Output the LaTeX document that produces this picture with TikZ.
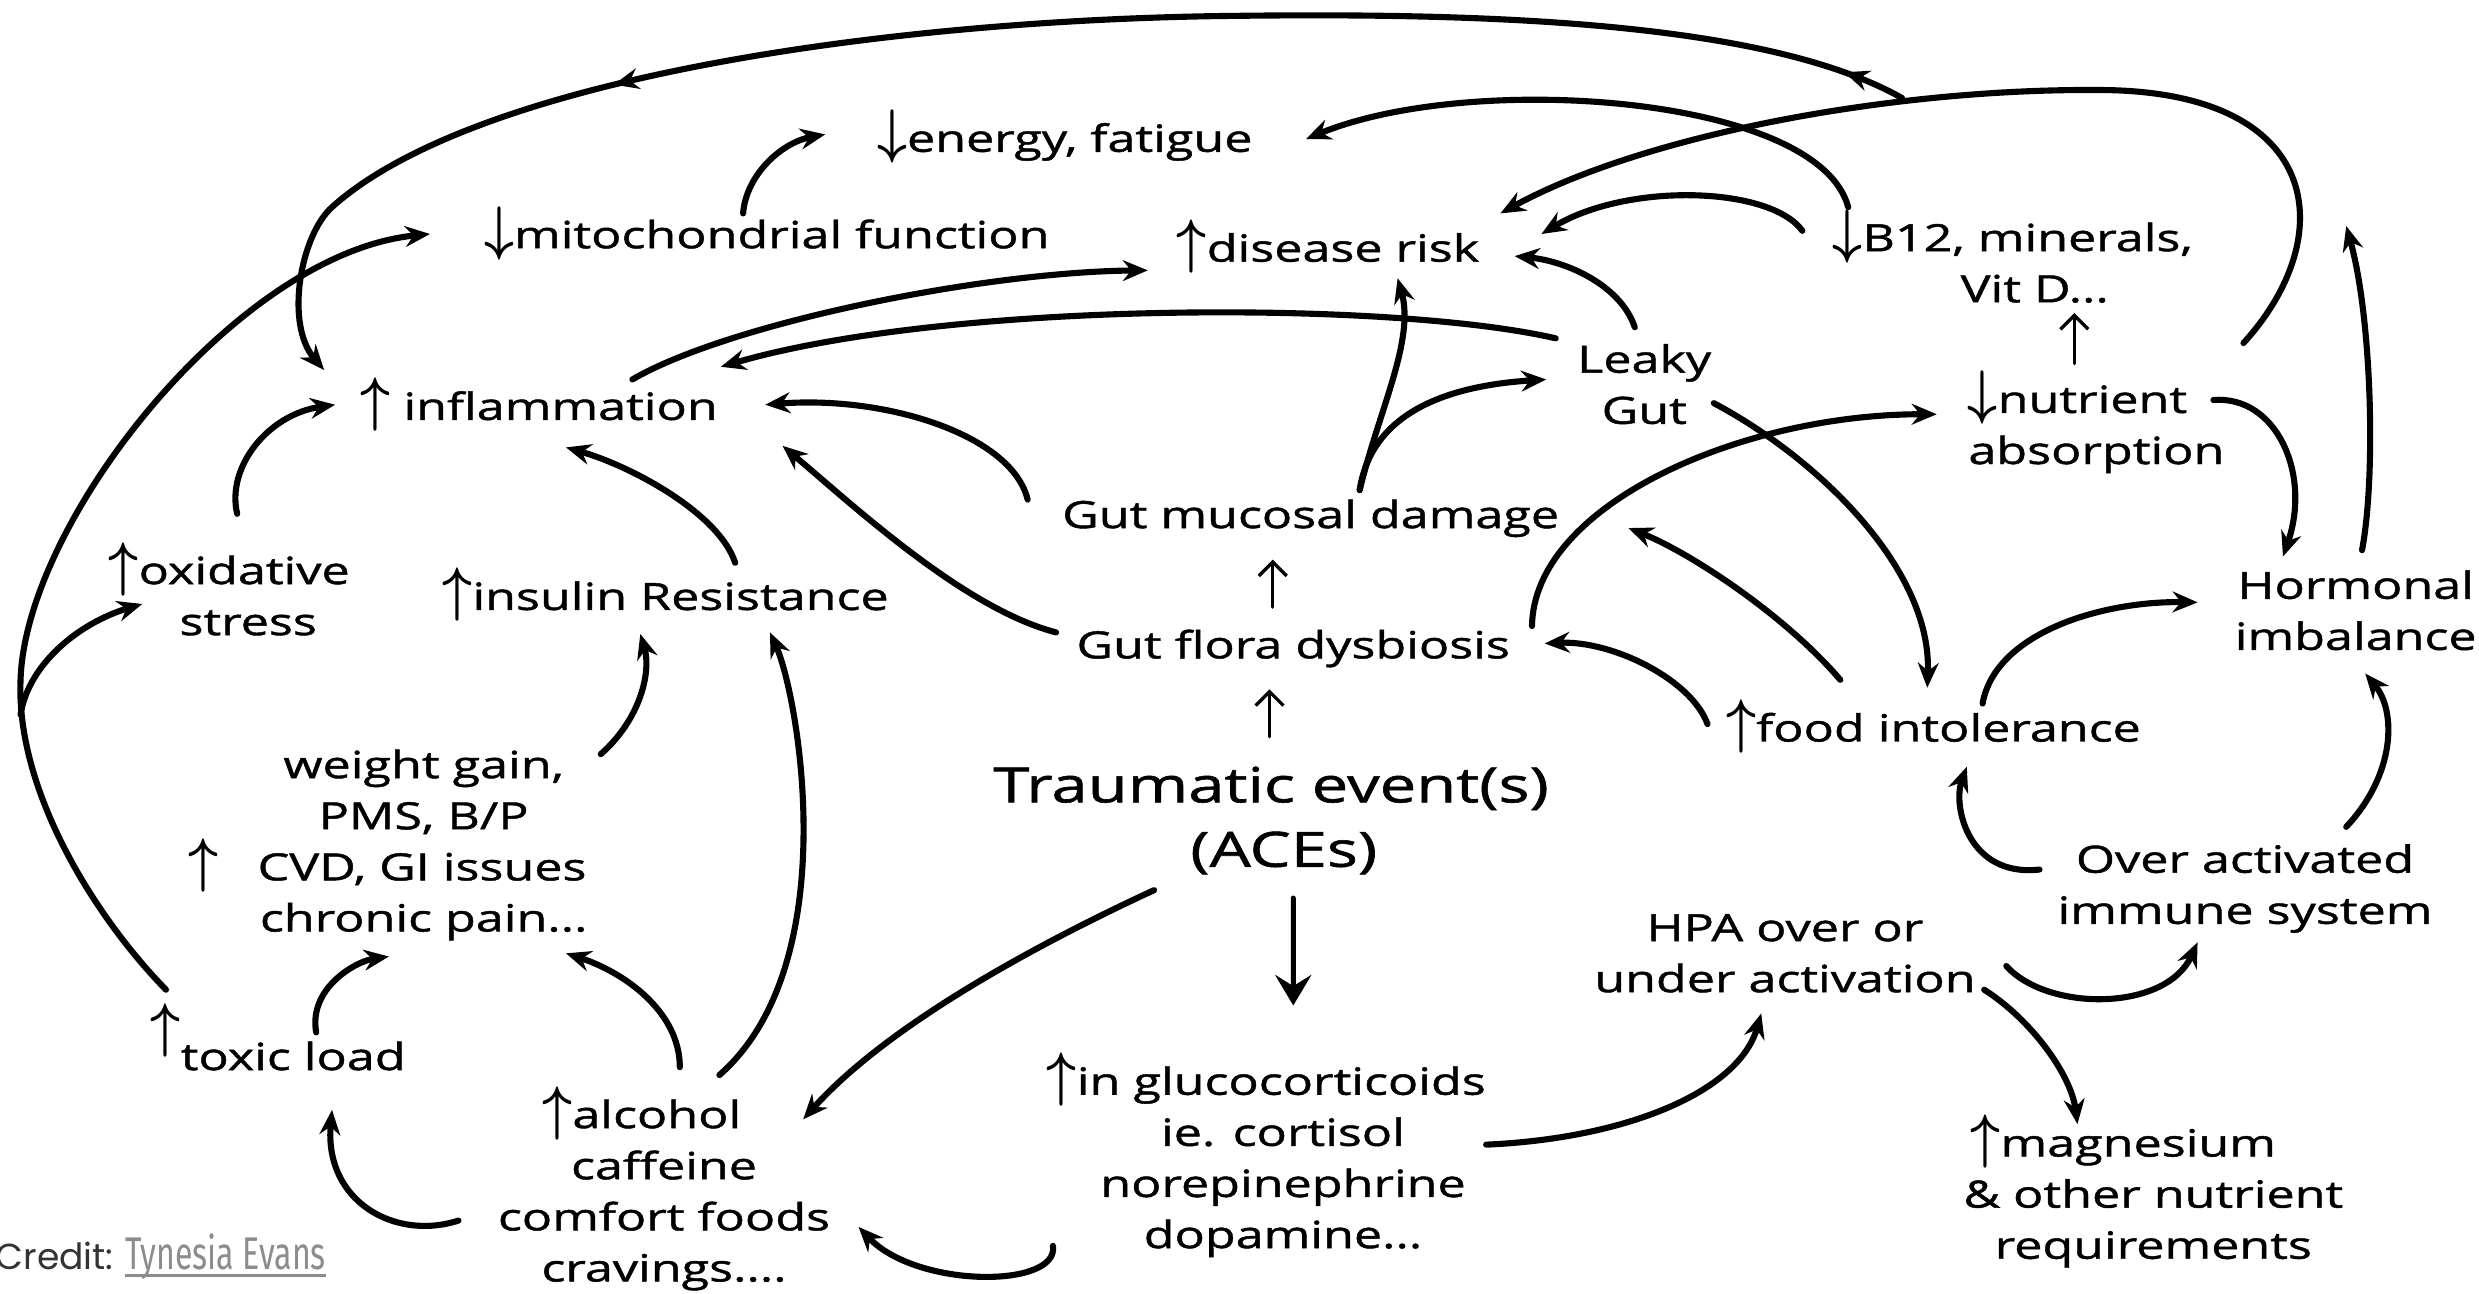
\documentclass[tikz,border=0pt]{standalone}
\usepackage{amsmath}
\usepackage{fontspec}
\usepackage{graphicx}
\setmainfont{Open Sans}[FakeStretch=1.34,FakeBold=1.2]
\newfontfamily\credfont{Poppins}
\newfontfamily\namefont{Fira Sans}[FakeStretch=0.70]
\usetikzlibrary{arrows.meta,decorations.markings}
\definecolor{credgray}{HTML}{8C8C8C}
\definecolor{creddark}{HTML}{333333}
\newcommand\nfont{\fontsize{13.5pt}{18.4pt}\selectfont}
\newcommand\tfont{\fontsize{17.5pt}{23.2pt}\selectfont}
\newcommand\up{\scalebox{1.3}[1.5]{$\boldsymbol{\uparrow}$}}
\newcommand\dn{\scalebox{1.3}[1.5]{$\boldsymbol{\downarrow}$}}
\newcommand\gap[1]{\rule{#1}{0pt}}
\begin{document}
\begin{tikzpicture}[x=0.02cm,y=-0.02cm,line cap=round,
  lbl/.style={align=center,inner sep=0pt,font=\nfont},
  lblb/.style={inner sep=0pt,font=\nfont,anchor=base},
  con/.style={line width=2.2pt,-{Stealth[length=9pt,width=7.5pt,inset=3pt]}},
  thinarr/.style={line width=1.2pt,-{Straight Barb[length=5pt,width=10pt]}},
  bigarr/.style={line width=1.8pt,-{Stealth[length=11pt,width=13pt,inset=4pt]}},
  midtips/.style={postaction={decorate,decoration={markings,
     mark=at position 0.8cm with {\arrow{Stealth[length=9pt,width=7.5pt,inset=3pt]}},
     mark=at position 16.5cm with {\arrow{Stealth[length=9pt,width=7.5pt,inset=3pt]}}}}}]
\fill[white] (0,0) rectangle (1568,818);
\useasboundingbox (0,0) rectangle (1568,818);

% ---------- nodes ----------
\node[lblb] (energy) at (673.5,96) {\dn energy, fatigue};
\node[lblb] (mito) at (485,157) {\dn mitochondrial function};
\node[lblb] (disease) at (840,165.5) {\up disease risk};
\node[lbl] (b12) at (1273,162) {\dn B12, minerals,\\\gap{0.56cm}Vit D...};
\node[lblb] (infl) at (341,265.6) {\up\ inflammation};
\node[lbl] (leaky) at (1040,243) {Leaky\\Gut};
\node[lbl] (nutr) at (1326,267) {\dn nutrient\gap{0.48cm}\\absorption};
\node[lbl] (oxid) at (145,372.5) {\up oxidative\\\gap{0.48cm}stress};
\node[lblb] (insulin) at (421,385.8) {\up insulin Resistance};
\node[lblb] (mucosal) at (829,334) {Gut mucosal damage};
\node[lblb] (dysb) at (818,416.4) {Gut flora dysbiosis};
\node[lbl] (horm) at (1490,386) {Hormonal\\imbalance};
\node[lblb] (food) at (1223,469) {\up food intolerance};
\node[lbl] (weight) at (268,534.5) {weight gain,\\PMS, B/P\\\up\hspace{0.5cm}CVD, GI issues\gap{0.92cm}\\chronic pain...};
\node[lbl,font=\tfont] (trauma) at (804,519) {Traumatic event(s)\\\gap{0.32cm}(ACEs)};
\node[lbl] (immune) at (1420,562) {Over activated\\immune system};
\node[lbl] (hpa) at (1129,603) {HPA over or\\under activation};
\node[lblb] (toxic) at (176,676.8) {\raisebox{8.7pt}{\up}toxic load};
\node[lbl] (alcohol) at (420,751.7) {\up alcohol\gap{0.56cm}\\caffeine\\comfort foods\\cravings....};
\node[lbl] (gluco) at (811.5,730.6) {\up in glucocorticoids\gap{0.42cm}\\ie. cortisol\\norepinephrine\\dopamine...};
\node[lbl] (magn) at (1362,753.5) {\up magnesium\gap{0.76cm}\\\& other nutrient\\requirements};

\node[anchor=base west,inner sep=0pt,font=\credfont\fontsize{13pt}{16pt}\selectfont,text=creddark] (credit) at (-3,803) {Credit:};
\node[anchor=base west,inner sep=0pt,font=\namefont\fontsize{16.5pt}{19pt}\selectfont,text=credgray] (credname) at (79,803) {Tynesia Evans};
\draw[credgray,line width=1.1pt,line cap=butt] ([shift={(0,3.5)}]credname.base west) -- ([shift={(0,3.5)}]credname.base east);

% ---------- free ends ----------
\coordinate (loopj) at (1203,62);
\coordinate (oxbr) at (13,452);
\coordinate (hormtip) at (1484,143);

% ---------- connectors ----------
\draw[con] ([shift={(-15,-22)}]mito.base) .. controls (472,110) and (495,90) .. ([shift={(-151.5,-11)}]energy.base);
\draw[con] ([shift={(59,-25.6)}]infl.base) .. controls (460,205) and (620,172) .. ([shift={(-114,5.5)}]disease.base);
\draw[con] ([shift={(-56,-29)}]leaky.center) .. controls (880,190) and (600,190) .. ([shift={(115,-33.6)}]infl.base);
\draw[con] ([shift={(-104,-31)}]b12.center) .. controls (1150,60) and (930,45) .. ([shift={(152.5,-8)}]energy.base);
\draw[con] ([shift={(93,-50)}]nutr.center) .. controls (1480,150) and (1470,60) .. (1334,57) .. controls (1200,55) and (1040,85) .. ([shift={(109,-30.5)}]disease.base);
\draw[con,midtips] (loopj) .. controls (1120,15) and (950,8) .. (784,10) .. controls (560,12) and (300,50) .. (210,131) .. controls (190,149) and (180,205) .. ([shift={(-136,-31.6)}]infl.base);
\draw[con] ([shift={(-71,-50.8)}]toxic.base) .. controls (60,580) and (10,500) .. (13,430) .. controls (16,330) and (150,160) .. ([shift={(-213,-9)}]mito.base);
\draw[con] (oxbr) .. controls (18,420) and (50,394) .. ([shift={(-55,9.5)}]oxid.center);
\draw[con] ([shift={(5,-47.5)}]oxid.center) .. controls (143,295) and (170,262) .. ([shift={(-129,-9.6)}]infl.base);
\draw[con] ([shift={(44,-29.8)}]insulin.base) .. controls (455,325) and (400,295) .. ([shift={(17,17.4)}]infl.base);
\draw[con] ([shift={(-179,-18)}]mucosal.base) .. controls (640,275) and (560,250) .. ([shift={(143,-9.6)}]infl.base);
\draw[con] ([shift={(-150,-16.4)}]dysb.base) .. controls (610,385) and (540,320) .. ([shift={(154,16.4)}]infl.base);
\draw[con] ([shift={(31,-24)}]mucosal.base) .. controls (872,260) and (895,215) .. ([shift={(44,10.5)}]disease.base);
\draw[con] ([shift={(31,-24)}]mucosal.base) .. controls (866,270) and (900,245) .. ([shift={(-62,-3)}]leaky.center);
\draw[con] ([shift={(-133,-16)}]b12.center) .. controls (1120,118) and (1030,115) .. ([shift={(135,-17.5)}]disease.base);
\draw[con] ([shift={(-6,-36)}]leaky.center) .. controls (1025,180) and (990,165) .. ([shift={(118,-3.5)}]disease.base);
\draw[thinarr] ([shift={(-14,-37)}]nutr.center) -- ([shift={(39,36)}]b12.center);
\draw[con] ([shift={(44,12)}]leaky.center) .. controls (1150,290) and (1222,360) .. ([shift={(-4,-34)}]food.base);
\draw[con] ([shift={(151,-20.4)}]dysb.base) .. controls (970,320) and (1100,262) .. ([shift={(-101,-5)}]nutr.center);
\draw[con] ([shift={(-59,-39)}]food.base) .. controls (1130,390) and (1070,350) .. ([shift={(201,0)}]mucosal.base);
\draw[con] ([shift={(-143,-11)}]food.base) .. controls (1070,430) and (1020,405) .. ([shift={(159,-9.4)}]dysb.base);
\draw[con] ([shift={(31,-24)}]food.base) .. controls (1262,400) and (1330,380) .. ([shift={(-100,-5)}]horm.center);
\draw[con] ([shift={(74,-14)}]nutr.center) .. controls (1440,250) and (1462,300) .. ([shift={(-46,-34)}]horm.center);
\draw[con] ([shift={(4,-38)}]horm.center) .. controls (1503,300) and (1500,200) .. (hormtip);
\draw[con] ([shift={(64,-39)}]immune.center) .. controls (1515,490) and (1516,450) .. ([shift={(6,40)}]horm.center);
\draw[con] ([shift={(-130,-12)}]immune.center) .. controls (1245,555) and (1235,510) .. ([shift={(21,16)}]food.base);
\draw[thinarr] ([shift={(-1,-53)}]trauma.center) -- ([shift={(-15,19.6)}]dysb.base);
\draw[thinarr] ([shift={(-13,-32.4)}]dysb.base) -- ([shift={(-24,20)}]mucosal.base);
\draw[bigarr] ([shift={(14,49)}]trauma.center) -- ([shift={(6.5,-94.6)}]gluco.center);
\draw[con] ([shift={(-74,44)}]trauma.center) .. controls (650,600) and (560,650) .. ([shift={(88,-43.7)}]alcohol.center);
\draw[con] ([shift={(-145.5,57.4)}]gluco.center) .. controls (670,815) and (580,815) .. ([shift={(123,24.3)}]alcohol.center);
\draw[con] ([shift={(-130,20.3)}]alcohol.center) .. controls (250,785) and (205,760) .. ([shift={(34,25.2)}]toxic.base);
\draw[con] ([shift={(10,-76.7)}]alcohol.center) .. controls (430,640) and (395,615) .. ([shift={(90,68.5)}]weight.center);
\draw[con] ([shift={(35,-71.7)}]alcohol.center) .. controls (535,610) and (505,440) .. ([shift={(66,14.2)}]insulin.base);
\draw[con] ([shift={(24,-23.8)}]toxic.base) .. controls (195,625) and (225,608) .. ([shift={(-22,70.5)}]weight.center);
\draw[con] ([shift={(112,-57.5)}]weight.center) .. controls (405,455) and (412,425) .. ([shift={(-16,15.2)}]insulin.base);
\draw[con] ([shift={(128.5,-6.6)}]gluco.center) .. controls (1030,720) and (1100,690) .. ([shift={(-15,38)}]hpa.center);
\draw[con] ([shift={(140,8)}]hpa.center) .. controls (1295,640) and (1370,640) .. ([shift={(-30,34)}]immune.center);
\draw[con] ([shift={(126,23)}]hpa.center) .. controls (1285,645) and (1310,680) .. ([shift={(-48,-42.5)}]magn.center);
\end{tikzpicture}
\end{document}
